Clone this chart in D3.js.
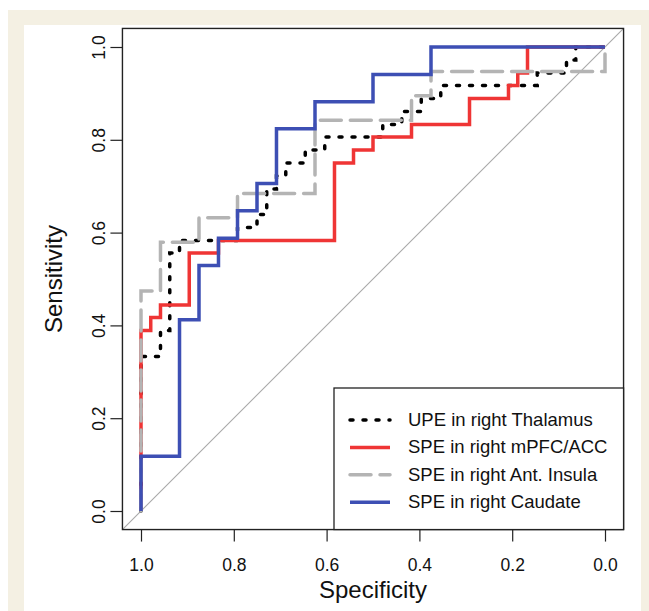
<!DOCTYPE html>
<html>
<head>
<meta charset="utf-8">
<script src="https://cdn.jsdelivr.net/npm/d3@7"></script>
<style>
    body { margin: 0; background: #fff; }
    svg { display: block; font-family: "Liberation Sans", Arial, Helvetica, sans-serif; }
</style>
</head>
<body>
<div id="view"></div>
<script>

// ROC curves: each point is where the curve rises (specificity, sensitivity)
var thalamusSpec = [1, 1, 0.958, 0.938, 0.917, 0.792, 0.750, 0.729, 0.708, 0.688, 0.646, 0.604, 0.479, 0.438, 0.396, 0.354, 0.146, 0.083, 0.063, 0];
var thalamusSens = [0, 0.333, 0.389, 0.556, 0.583, 0.611, 0.639, 0.694, 0.722, 0.750, 0.778, 0.806, 0.833, 0.861, 0.889, 0.917, 0.944, 0.972, 1, 1];

var mpfcSpec = [1, 1, 0.979, 0.958, 0.896, 0.833, 0.583, 0.542, 0.5, 0.417, 0.292, 0.208, 0.188, 0.167, 0];
var mpfcSens = [0, 0.389, 0.417, 0.444, 0.556, 0.583, 0.75, 0.778, 0.806, 0.833, 0.889, 0.917, 0.944, 1, 1];

var insulaSpec = [1, 1, 0.958, 0.875, 0.792, 0.625, 0.417, 0.375, 0];
var insulaSens = [0, 0.474, 0.579, 0.632, 0.684, 0.842, 0.895, 0.947, 1];

var caudateSpec = [1, 1, 0.917, 0.875, 0.833, 0.792, 0.75, 0.708, 0.625, 0.5, 0.375, 0];
var caudateSens = [0, 0.118, 0.412, 0.529, 0.588, 0.647, 0.706, 0.824, 0.882, 0.941, 1, 1];

var seriesNames = ["UPE in right Thalamus", "SPE in right mPFC/ACC", "SPE in right Ant. Insula", "SPE in right Caudate"];
var tickValues = [1.0, 0.8, 0.6, 0.4, 0.2, 0.0];

var styles = [
    {color: "#000000", dash: "3 10"},
    {color: "#ef3535", dash: null},
    {color: "#b4b4b4", dash: "21 9"},
    {color: "#3d4fb4", dash: null},
];

var series = [
    {spec: thalamusSpec, sens: thalamusSens},
    {spec: mpfcSpec, sens: mpfcSens},
    {spec: insulaSpec, sens: insulaSens},
    {spec: caudateSpec, sens: caudateSens},
].map((s, i) => ({
    name: seriesNames[i],
    style: styles[i],
    points: s.spec.map((d, j) => ({spec: d, sens: s.sens[j]})),
}));

var W = 649, H = 611;
var x = d3.scaleLinear().domain([1, 0]).range([141, 605]);
var y = d3.scaleLinear().domain([0, 1]).range([511, 47]);
var box = {left: x(1.04), right: x(-0.04), top: y(1.04), bottom: y(-0.04)};

var svg = d3.select("#view").append("svg")
    .attr("width", W)
    .attr("height", H)
;

drawFrame(svg);
drawAxes(svg);
drawCurves(svg);
drawLegend(svg);

function drawFrame(svg) {
    svg.append("rect")
        .attr("x", 8).attr("y", 10)
        .attr("width", W - 8).attr("height", H - 10)
        .attr("fill", "#f4f0e3")
    ;
    svg.append("rect")
        .attr("x", 24).attr("y", 25)
        .attr("width", 641 - 24).attr("height", H - 25)
        .attr("fill", "#ffffff")
    ;
}

function drawAxes(svg) {
    var fmt = d3.format(".1f");

    var xAxis = svg.append("g")
        .attr("transform", `translate(0, ${box.bottom})`)
        .call(d3.axisBottom(x).tickValues(tickValues).tickFormat(fmt).tickSize(12).tickSizeOuter(0).tickPadding(17))
    ;
    xAxis.selectAll("text")
        .attr("fill", "#111")
        .style("font-size", "17.5px")
    ;

    var yAxis = svg.append("g")
        .attr("transform", `translate(${box.left}, 0)`)
        .call(d3.axisLeft(y).tickValues(tickValues).tickFormat(fmt).tickSize(12).tickSizeOuter(0))
    ;
    yAxis.selectAll("text")
        .attr("x", null)
        .attr("dy", null)
        .attr("text-anchor", "middle")
        .attr("transform", "translate(-17, 0) rotate(-90)")
        .attr("fill", "#111")
        .style("font-size", "17.5px")
    ;
    svg.selectAll(".domain").remove();
    svg.selectAll(".tick line").attr("stroke", "#222").attr("stroke-width", 1.2);

    // the 45 degree reference line, clipped to the plot box
    svg.append("clipPath").attr("id", "clip")
        .append("rect")
        .attr("x", box.left).attr("y", box.top)
        .attr("width", box.right - box.left).attr("height", box.bottom - box.top)
    ;
    svg.append("line")
        .attr("clip-path", "url(#clip)")
        .attr("x1", x(1.1)).attr("y1", y(-0.1))
        .attr("x2", x(-0.1)).attr("y2", y(1.1))
        .attr("stroke", "#a8a8a8")
        .attr("stroke-width", 1.1)
    ;

    svg.append("rect")
        .attr("x", box.left).attr("y", box.top)
        .attr("width", box.right - box.left).attr("height", box.bottom - box.top)
        .attr("fill", "none")
        .attr("stroke", "#222")
        .attr("stroke-width", 1.4)
    ;

    svg.append("text")
        .attr("x", (box.left + box.right) / 2)
        .attr("y", 598)
        .attr("text-anchor", "middle")
        .style("font-size", "24px")
        .attr("fill", "#111")
        .text("Specificity")
    ;
    svg.append("text")
        .attr("transform", `translate(62, ${(box.top + box.bottom) / 2}) rotate(-90)`)
        .attr("text-anchor", "middle")
        .style("font-size", "24px")
        .attr("fill", "#111")
        .text("Sensitivity")
    ;
}

function drawCurves(svg) {
    var line = d3.line()
        .x(d => x(d.spec))
        .y(d => y(d.sens))
        .curve(d3.curveStepAfter)
    ;
    svg.append("g").selectAll("path")
        .data(series)
        .enter()
        .append("path")
        .attr("d", d => line(d.points))
        .attr("fill", "none")
        .attr("stroke", d => d.style.color)
        .attr("stroke-width", 3.5)
        .attr("stroke-dasharray", d => d.style.dash)
        .attr("stroke-linecap", d => d.style.dash ? "round" : "butt")
    ;
}

function drawLegend(svg) {
    var lg = svg.append("g");
    lg.append("rect")
        .attr("x", 334).attr("y", 388)
        .attr("width", box.right - 334).attr("height", box.bottom - 388)
        .attr("fill", "#fff")
        .attr("stroke", "#222")
        .attr("stroke-width", 1.3)
    ;
    var rows = lg.selectAll(".row")
        .data(series)
        .enter()
        .append("g")
        .attr("class", "row")
        .attr("transform", (d, i) => `translate(0, ${420 + i * 27.4})`)
    ;
    rows.append("line")
        .attr("x1", 350).attr("x2", 390)
        .attr("stroke", d => d.style.color)
        .attr("stroke-width", 3.5)
        .attr("stroke-dasharray", d => d.style.dash)
        .attr("stroke-linecap", d => d.style.dash ? "round" : "butt")
    ;
    rows.append("text")
        .attr("x", 408)
        .attr("y", 6)
        .style("font-size", "18.5px")
        .attr("fill", "#111")
        .text(d => d.name)
    ;
}
</script>
</body>
</html>
